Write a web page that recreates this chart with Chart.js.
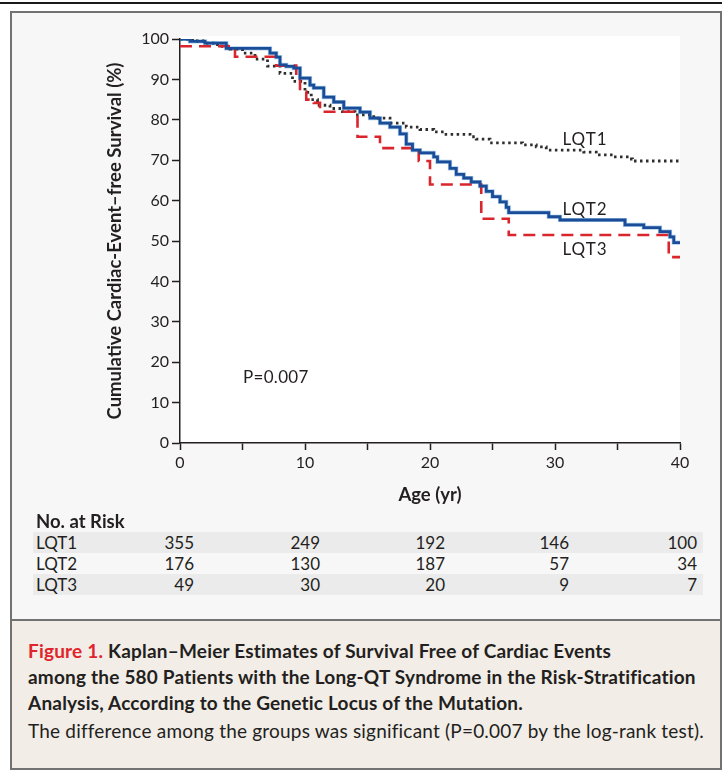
<!DOCTYPE html>
<html>
<head>
<meta charset="utf-8">
<script src="https://cdn.jsdelivr.net/npm/chart.js@4.4.1/dist/chart.umd.min.js"></script>
<style>
  body { margin: 0; width: 722px; height: 771px; background: #fff; position: relative; overflow: hidden; font-family: Lato, sans-serif; color: #231f20; }
  #rule { position: absolute; left: 0; top: 2px; width: 722px; height: 2px; background: #1a1a1a; }
  #panel { position: absolute; left: 10px; top: 11px; width: 712px; height: 610px; box-sizing: border-box; background: #f7f7f7; border: 2px solid #727272; }
  #chartBox { position: absolute; left: 90px; top: 20px; width: 610px; height: 500px; }
  #riskTitle { position: absolute; left: 36px; top: 510px; font-weight: bold; font-size: 18.5px; line-height: 22px; }
  .row { position: absolute; left: 33px; width: 670px; height: 21px; font-size: 17px; line-height: 21px; }
  .row.shade { background: #ebebeb; }
  .row span { position: absolute; top: 0; white-space: nowrap; }
  #caption { position: absolute; left: 10px; top: 619px; width: 712px; height: 151px; box-sizing: border-box; background: #f2ede7; border: 2px solid #727272; }
  .cap { position: absolute; left: 28px; font-size: 19px; line-height: 26px; letter-spacing: 0.2px; white-space: nowrap; }
  .cap.b { font-weight: bold; }
  .red { color: #e0242b; }
</style>
</head>
<body>
<div id="rule"></div>
<div id="panel"></div>
<div id="chartBox"><canvas id="km" width="610" height="500"></canvas></div>
<div id="riskTitle">No. at Risk</div>
<div id="riskRows"></div>
<div id="caption"></div>
<div class="cap b" style="top:638px"><span class="red">Figure 1.</span> Kaplan–Meier Estimates of Survival Free of Cardiac Events</div>
<div class="cap b" style="top:664px">among the 580 Patients with the Long-QT Syndrome in the Risk-Stratification</div>
<div class="cap b" style="top:690px">Analysis, According to the Genetic Locus of the Mutation.</div>
<div class="cap" style="top:718px">The difference among the groups was significant (P=0.007 by the log-rank test).</div>

<script>
// Kaplan-Meier steps (age in years, survival in %)
const lqt1Age = [0, 1, 2, 3, 4, 5, 6, 7, 8, 9, 10, 10.5, 11, 12, 13, 14, 15.5, 16.8, 18.1, 19.2, 20.3, 21.1, 23.2, 23.7, 24.8, 27.4, 28.5, 29.3, 32.3, 33.3, 34.7, 35.9, 36.2, 40];
const lqt1Surv = [100, 99.5, 99, 98.2, 97.5, 96.5, 95, 93.3, 91.5, 89.5, 86.8, 85, 83.6, 82.8, 82, 81.2, 80.4, 79.2, 78.2, 77.6, 77, 76.4, 75.8, 75.2, 74.3, 73.8, 73.3, 72.5, 72, 71.3, 70.8, 70.3, 69.8, 69.8];

const lqt2Age = [0, 0.8, 2, 3.7, 7.2, 7.7, 8, 8.5, 9.1, 9.6, 10.4, 10.7, 11.5, 12.3, 13.1, 14.4, 15.2, 16, 16.8, 17.6, 18.1, 18.6, 19.2, 20.3, 20.6, 21.6, 22.1, 22.7, 23.3, 24, 24.5, 25, 25.6, 26.1, 26.3, 29.5, 30.4, 35.6, 37.1, 38.4, 39.2, 39.5, 40];
const lqt2Surv = [100, 99.4, 99, 97.7, 96.5, 95.5, 93.6, 93.2, 92.8, 90.3, 88.6, 87.9, 85.6, 84.4, 82.9, 81.9, 80.4, 79.2, 78.2, 76.5, 74, 72.5, 71.8, 70.8, 69.6, 68, 66.5, 65.6, 64.6, 63.6, 62.3, 61, 59.7, 58.3, 57, 56, 55.2, 54, 53.3, 52.3, 51, 49.6, 49.6];

const lqt3Age = [0, 4.4, 7.7, 9.3, 9.6, 10.1, 10.7, 11.2, 14.2, 16, 19.1, 20, 24.1, 26.3, 39.1, 40];
const lqt3Surv = [98.2, 95.6, 93.4, 90, 87, 85, 84.2, 82, 75.8, 73, 69.8, 64, 55.5, 51.5, 46, 46];

// numbers at risk at ages 0, 10, 20, 30, 40
const riskAges = [0, 10, 20, 30, 40];
const riskLQT1 = [355, 249, 192, 146, 100];
const riskLQT2 = [176, 130, 187, 57, 34];
const riskLQT3 = [49, 30, 20, 9, 7];

const pts = (xs, ys) => xs.map((x, i) => ({ x: x, y: ys[i] }));

// table of numbers at risk
const rows = [['LQT1', riskLQT1, true], ['LQT2', riskLQT2, false], ['LQT3', riskLQT3, true]];
const numRight = [161, 287, 412, 536, 664];
const holder = document.getElementById('riskRows');
rows.forEach((r, i) => {
  const div = document.createElement('div');
  div.className = 'row' + (r[2] ? ' shade' : '');
  div.style.top = (532 + i * 21) + 'px';
  let html = '<span style="left:3px">' + r[0] + '</span>';
  r[1].forEach((n, j) => {
    html += '<span style="left:' + (numRight[j] - 60) + 'px;width:60px;text-align:right">' + n + '</span>';
  });
  div.innerHTML = html;
  holder.appendChild(div);
});

const ink = '#231f20';
const tickFont = { family: 'Lato', size: 16 };
const titleFont = { family: 'Lato', size: 18.5, weight: 'bold' };

const plotBg = {
  id: 'plotBg',
  beforeDraw(chart) {
    const a = chart.chartArea, c = chart.ctx;
    c.save();
    c.fillStyle = '#ffffff';
    c.fillRect(a.left, a.top - 3, a.right - a.left, a.bottom - a.top + 3);
    c.restore();
  }
};

const notes = {
  id: 'notes',
  afterDatasetsDraw(chart) {
    const c = chart.ctx, xs = chart.scales.x, ys = chart.scales.y;
    c.save();
    c.fillStyle = ink;
    c.font = '17px Lato';
    c.textBaseline = 'middle';
    c.textAlign = 'center';
    c.letterSpacing = '1px';
    [['LQT1', 32.4, 75], ['LQT2', 32.4, 57.9], ['LQT3', 32.4, 48]].forEach(n => {
      c.fillText(n[0], xs.getPixelForValue(n[1]), ys.getPixelForValue(n[2]));
    });
    c.letterSpacing = '0.3px';
    c.textAlign = 'left';
    c.font = '17px Lato';
    c.fillText('P=0.007', xs.getPixelForValue(5.04), ys.getPixelForValue(16.1));
    c.restore();
  }
};

new Chart(document.getElementById('km'), {
  type: 'line',
  data: {
    datasets: [
      { label: 'LQT2', data: pts(lqt2Age, lqt2Surv), borderColor: '#1b4c97', borderWidth: 2.8, stepped: true, order: 0 },
      { label: 'LQT3', data: pts(lqt3Age, lqt3Surv), borderColor: '#d9252c', borderWidth: 2.6, borderDash: [12, 7], stepped: true, order: 1 },
      { label: 'LQT1', data: pts(lqt1Age, lqt1Surv), borderColor: '#2e2e2e', borderWidth: 2.8, borderDash: [2.5, 3.5], stepped: true, order: 2 },
      { label: 'LQT2 edge', data: pts(lqt2Age, lqt2Surv), borderColor: '#a9cdec', borderWidth: 4.2, stepped: true, order: 3 }
    ]
  },
  options: {
    responsive: false,
    animation: false,
    devicePixelRatio: 1,
    layout: { padding: { left: 0, top: 19, right: 20, bottom: 0 } },
    elements: { point: { radius: 0 }, line: { tension: 0 } },
    plugins: { legend: { display: false }, tooltip: { enabled: false } },
    scales: {
      x: {
        type: 'linear', min: 0, max: 40,
        afterFit: s => { s.height = 77; },
        ticks: { stepSize: 5, autoSkip: false, maxRotation: 0, padding: 3, color: ink, font: tickFont,
                 callback: v => (v % 10 === 0 ? v : '') },
        grid: { drawOnChartArea: false, tickLength: 7, tickColor: ink, tickWidth: 1.5 },
        border: { color: ink, width: 1.5 },
        title: { display: true, text: 'Age (yr)', color: ink, font: titleFont, padding: { top: 0, bottom: 14 } }
      },
      y: {
        min: 0, max: 100,
        afterFit: s => { s.width = 90; },
        ticks: { stepSize: 10, padding: 3, color: ink, font: tickFont },
        grid: { drawOnChartArea: false, tickLength: 8, tickColor: ink, tickWidth: 1.5 },
        border: { color: ink, width: 1.5 },
        title: { display: true, text: 'Cumulative Cardiac-Event–free Survival (%)', color: ink, font: titleFont, padding: { top: 14, bottom: 0 } }
      }
    }
  },
  plugins: [plotBg, notes]
});
</script>
</body>
</html>
